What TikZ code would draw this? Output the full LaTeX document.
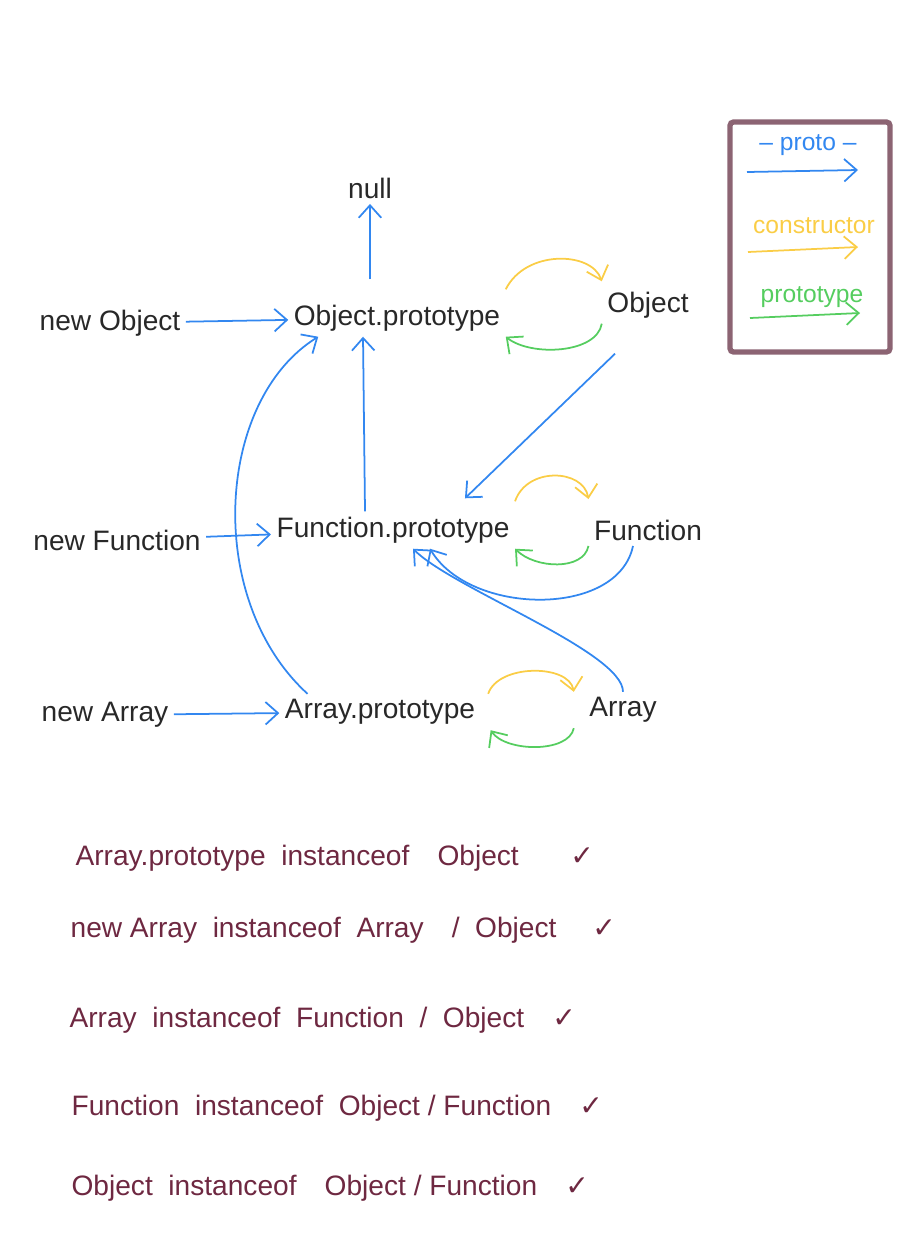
\documentclass[tikz,border=0pt]{standalone}
\usepackage{fontspec}
\setmainfont{Liberation Sans}
\newfontfamily\checkfont{DejaVu Sans}
\usepackage{xcolor}
\usepackage{tikz}
\usetikzlibrary{arrows.meta}
\usetikzlibrary{positioning}

\definecolor{protoblue}{RGB}{50,135,240}
\definecolor{ctoryellow}{RGB}{250,205,70}
\definecolor{typegreen}{RGB}{85,205,95}
\definecolor{framemauve}{RGB}{140,100,115}
\definecolor{notewine}{RGB}{110,40,65}
\definecolor{inkgray}{RGB}{40,40,40}

\begin{document}
\begin{tikzpicture}[
    x=0.02cm, y=-0.02cm,
    every node/.style={inner sep=3pt, text=inkgray, font=\fontsize{16}{19}\selectfont},
    proto link/.style={draw=protoblue, line width=1pt, -{Straight Barb[length=2.5mm,width=4.5mm]}},
    ctor link/.style={proto link, draw=ctoryellow},
    type link/.style={proto link, draw=typegreen},
    key label/.style={font=\fontsize{14}{16}\selectfont},
    note/.style={anchor=west, text=notewine},
  ]

  \useasboundingbox (0,0) rectangle (922,1248);

  % Top row
  \node (null)     at (370, 188) {null};
  \node (newobj)   at (110, 323) {new Object};
  \node (objproto) at (397, 318) {Object.prototype};
  \node (obj)      at (648, 305) {Object};

  % Middle row
  \node (newfun)   at (117, 540) {new Function};
  \node (funproto) at (393, 530) {Function.prototype};
  \node (fun)      at (648, 530) {Function};

  % Bottom row
  \node (newarr)   at (105, 715) {new Array};
  \node (arrproto) at (380, 712) {Array.prototype};
  \node (arr)      at (623, 710) {Array};

  % Straight proto links
  \draw[proto link, shorten <=0.4cm] (objproto.north -| null) -- (null);
  \draw[proto link] (newobj) -- (objproto);
  \draw[proto link] (newfun) -- (funproto);
  \draw[proto link] (newarr) -- (arrproto);
  \draw[proto link] ([xshift=-0.56cm]funproto.north) -- ([xshift=-0.68cm]objproto.south);
  \draw[proto link] ([xshift=-0.66cm, yshift=-0.6cm]obj.south) -- ([xshift=1.44cm, yshift=0.26cm]funproto.north);

  % Curved proto links
  \draw[proto link] ([xshift=-1.45cm]arrproto.north)
    .. controls +(-103,-94) and +(-103,64) .. ([xshift=0.6cm]objproto.south west);
  \draw[proto link] ([xshift=-0.3cm]fun.south)
    .. controls +(-15,72) and +(40,67) .. ([xshift=0.74cm]funproto.south);
  \draw[proto link] (arr.north)
    .. controls +(0,-40) and +(40,40) .. ([xshift=0.4cm]funproto.south);

  % constructor / prototype pairs
  \draw[ctor link] ([yshift=0.2cm]objproto.north east) .. controls +(20,-40) and +(-10,-30) .. ([yshift=0.1cm]obj.north west);
  \draw[type link] (obj.south west) .. controls +(-5,30) and +(25,20) .. (objproto.south east);
  \draw[ctor link] ([yshift=0.2cm]funproto.north east) .. controls +(12,-35) and +(-5,-30) .. ([yshift=0.3cm]fun.north west);
  \draw[type link] (fun.south west) .. controls +(-5,25) and +(20,20) .. (funproto.south east);
  \draw[ctor link] ([xshift=0.15cm]arrproto.north east) .. controls +(10,-30) and +(-5,-28) .. ([xshift=-0.2cm]arr.north west);
  \draw[type link] ([xshift=-0.2cm]arr.south west) .. controls +(-5,25) and +(15,22) .. ([xshift=0.2cm]arrproto.south east);

  % Key
  \draw[draw=framemauve, line width=3pt, rounded corners=2pt] (730, 122) rectangle (890, 352);
  \node[key label, text=protoblue]  (keyproto) at (808, 145) {-- proto --};
  \node[key label, text=ctoryellow] (keyctor)  at (814, 226) {constructor};
  \node[key label, text=typegreen]  (keytype)  at (812, 297) {prototype};
  \coordinate (protofrom) at (747, 172);
  \coordinate (prototo)   at (858, 170);
  \coordinate (ctorfrom)  at (748, 252);
  \coordinate (ctorto)    at (858, 247);
  \coordinate (typefrom)  at (750, 318);
  \coordinate (typeto)    at (860, 313);
  \draw[proto link] (protofrom) -- (prototo);
  \draw[ctor link]  (ctorfrom)  -- (ctorto);
  \draw[type link]  (typefrom)  -- (typeto);

  % instanceof notes
  \node[note] (note1) at (70, 858)  {Array.prototype\ \ instanceof\quad Object\quad\ \ \ {\checkfont ✓}};
  \node[note] (note2) at (65, 930)  {new Array\ \ instanceof\ \ Array\quad /\ \ Object\quad\ {\checkfont ✓}};
  \node[note] (note3) at (64, 1020) {Array\ \ instanceof\ \ Function\ \ /\ \ Object\quad {\checkfont ✓}};
  \node[note] (note4) at (66, 1108) {Function\ \ instanceof\ \ Object\ /\ Function\quad {\checkfont ✓}};
  \node[note] (note5) at (66, 1188) {Object\ \ instanceof\quad Object\ /\ Function\quad {\checkfont ✓}};

\end{tikzpicture}
\end{document}
